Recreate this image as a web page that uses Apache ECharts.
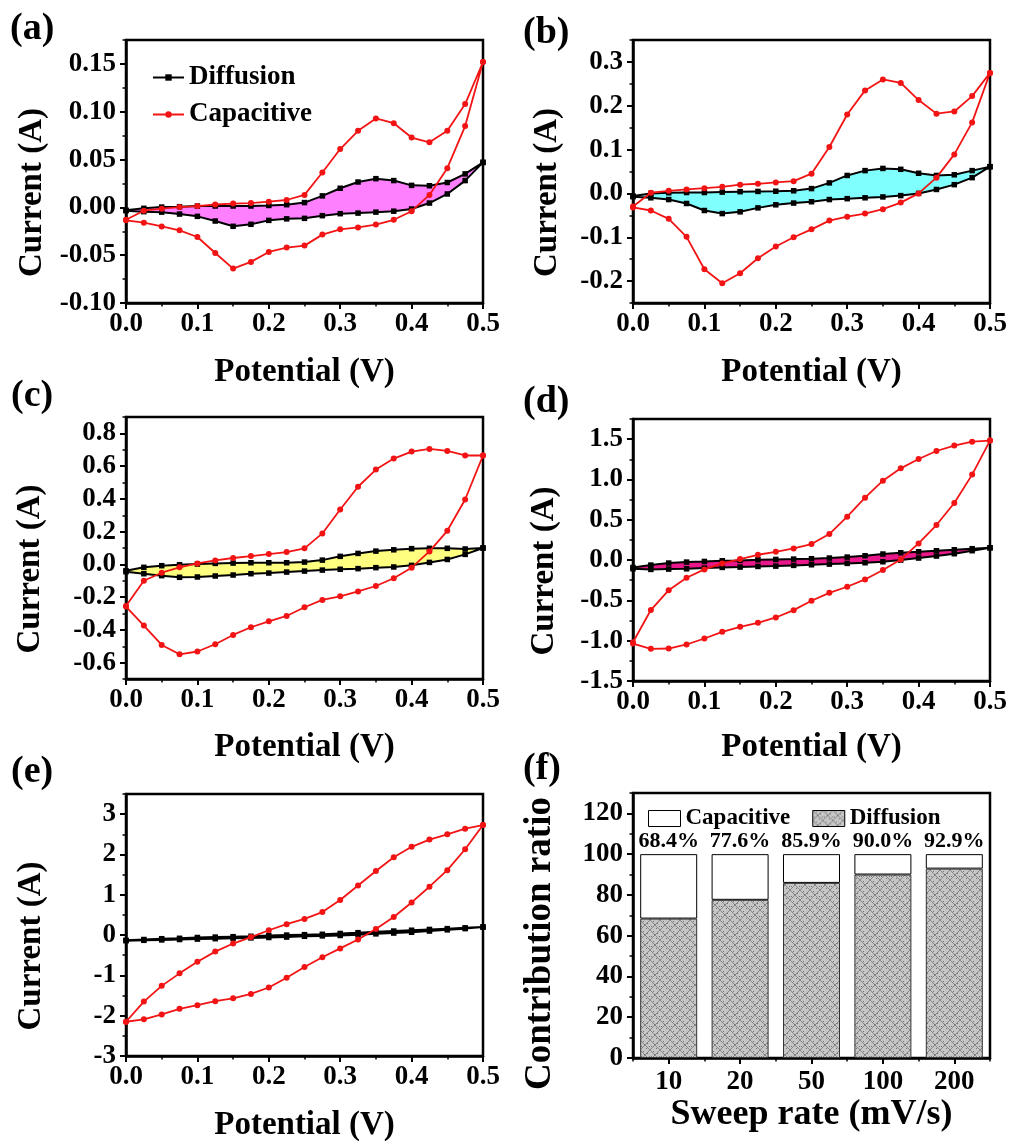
<!DOCTYPE html>
<html>
<head>
<meta charset="utf-8">
<script src="https://cdn.jsdelivr.net/npm/echarts@6/dist/echarts.min.js"></script>
<style>
html, body { margin: 0; padding: 0; background: #fff; }
#chart { width: 1009px; height: 1141px; }
</style>
</head>
<body>
<div id="chart"></div>
<script>
// Potential steps of each sweep (V)
const potential = [0, 0.025, 0.05, 0.075, 0.1, 0.125, 0.15, 0.175, 0.2, 0.225, 0.25,
  0.275, 0.3, 0.325, 0.35, 0.375, 0.4, 0.425, 0.45, 0.475, 0.5];

// (a) currents (A): anodic sweep (Up) and cathodic sweep (Down), listed by rising potential
const aCapUp   = [-0.013, -0.0035, -0.0014, 0.0003, 0.0014, 0.003, 0.004, 0.0045, 0.006, 0.0077, 0.013, 0.0365, 0.061, 0.080, 0.093, 0.088, 0.073, 0.068, 0.080, 0.108, 0.152];
const aCapDown = [-0.0135, -0.016, -0.020, -0.024, -0.031, -0.0477, -0.064, -0.057, -0.0466, -0.042, -0.040, -0.0285, -0.023, -0.021, -0.018, -0.013, -0.004, 0.013, 0.041, 0.085, 0.152];
const aDiffUp   = [-0.003, -0.001, 0.0003, 0.0007, 0.0014, 0.0014, 0.0014, 0.0014, 0.002, 0.0028, 0.005, 0.012, 0.020, 0.0265, 0.030, 0.028, 0.023, 0.0226, 0.026, 0.035, 0.047];
const aDiffDown = [-0.0035, -0.0045, -0.005, -0.007, -0.0094, -0.0143, -0.0198, -0.0177, -0.0136, -0.012, -0.0115, -0.0087, -0.0066, -0.006, -0.005, -0.004, -0.0017, 0.0045, 0.014, 0.028, 0.047];

// (b)
const bCapUp   = [-0.030, 0.0015, 0.006, 0.009, 0.012, 0.015, 0.020, 0.022, 0.025, 0.028, 0.045, 0.106, 0.180, 0.235, 0.260, 0.252, 0.213, 0.182, 0.187, 0.222, 0.275];
const bCapDown = [-0.032, -0.039, -0.058, -0.099, -0.173, -0.205, -0.182, -0.148, -0.121, -0.100, -0.082, -0.062, -0.053, -0.046, -0.036, -0.021, 0.0, 0.036, 0.089, 0.162, 0.275];
const bDiffUp   = [-0.006, 0.0, 0.0015, 0.002, 0.002, 0.003, 0.004, 0.0045, 0.005, 0.006, 0.011, 0.024, 0.041, 0.052, 0.057, 0.055, 0.046, 0.041, 0.0425, 0.052, 0.061];
const bDiffDown = [-0.0075, -0.010, -0.014, -0.023, -0.039, -0.046, -0.042, -0.033, -0.026, -0.022, -0.019, -0.014, -0.012, -0.010, -0.008, -0.005, 0.0, 0.009, 0.020, 0.036, 0.061];

// (c)
const cCapUp   = [-0.254, -0.10, -0.051, -0.018, 0.006, 0.024, 0.039, 0.051, 0.063, 0.075, 0.098, 0.189, 0.335, 0.474, 0.579, 0.646, 0.689, 0.705, 0.693, 0.665, 0.665];
const cCapDown = [-0.258, -0.374, -0.492, -0.549, -0.532, -0.488, -0.431, -0.384, -0.348, -0.315, -0.262, -0.217, -0.195, -0.165, -0.132, -0.085, -0.020, 0.079, 0.205, 0.396, 0.665];
const cDiffUp   = [-0.039, -0.018, -0.008, -0.002, 0.002, 0.006, 0.008, 0.010, 0.010, 0.010, 0.014, 0.026, 0.049, 0.067, 0.081, 0.089, 0.096, 0.098, 0.098, 0.094, 0.100];
const cDiffDown = [-0.045, -0.057, -0.069, -0.079, -0.077, -0.071, -0.065, -0.057, -0.053, -0.047, -0.041, -0.035, -0.030, -0.026, -0.020, -0.016, -0.006, 0.012, 0.030, 0.061, 0.100];

// (d)
const dCapUp   = [-1.02, -0.62, -0.373, -0.219, -0.116, -0.041, 0.012, 0.066, 0.103, 0.145, 0.199, 0.323, 0.538, 0.774, 0.985, 1.138, 1.254, 1.353, 1.42, 1.469, 1.482];
const dCapDown = [-1.035, -1.101, -1.097, -1.047, -0.973, -0.890, -0.828, -0.778, -0.712, -0.621, -0.505, -0.406, -0.331, -0.240, -0.124, 0.008, 0.207, 0.435, 0.708, 1.06, 1.482];
const dDiffUp   = [-0.091, -0.062, -0.037, -0.025, -0.017, -0.008, -0.004, 0.004, 0.008, 0.012, 0.017, 0.025, 0.037, 0.054, 0.075, 0.091, 0.103, 0.116, 0.128, 0.141, 0.153];
const dDiffDown = [-0.108, -0.116, -0.112, -0.108, -0.099, -0.091, -0.087, -0.079, -0.075, -0.066, -0.058, -0.050, -0.041, -0.033, -0.021, 0.0, 0.025, 0.050, 0.079, 0.116, 0.153];

// (e)
const eCapUp   = [-2.15, -1.65, -1.26, -0.95, -0.66, -0.41, -0.21, -0.05, 0.12, 0.27, 0.40, 0.57, 0.87, 1.23, 1.59, 1.93, 2.19, 2.37, 2.50, 2.64, 2.73];
const eCapDown = [-2.15, -2.09, -1.97, -1.83, -1.74, -1.64, -1.57, -1.46, -1.30, -1.06, -0.79, -0.55, -0.33, -0.11, 0.15, 0.45, 0.81, 1.20, 1.61, 2.13, 2.73];
const eDiffUp   = [-0.13, -0.11, -0.09, -0.08, -0.06, -0.05, -0.04, -0.03, -0.01, 0.0, 0.01, 0.02, 0.04, 0.06, 0.08, 0.10, 0.12, 0.14, 0.16, 0.18, 0.20];
const eDiffDown = [-0.14, -0.13, -0.12, -0.11, -0.10, -0.09, -0.08, -0.07, -0.06, -0.05, -0.03, -0.02, -0.01, 0.01, 0.03, 0.05, 0.07, 0.10, 0.13, 0.16, 0.20];

// (f) contribution ratio (%) per sweep rate
const sweepRates = ['10', '20', '50', '100', '200'];
const diffusionPct = [68.4, 77.6, 85.9, 90.0, 92.9];
const capacitivePct = [31.6, 22.4, 14.1, 10.0, 7.1];

// Tick labels
const xTicks = [0, 0.1, 0.2, 0.3, 0.4, 0.5];
const aTicks = [-0.1, -0.05, 0, 0.05, 0.1, 0.15];
const bTicks = [-0.2, -0.1, 0, 0.1, 0.2, 0.3];
const cTicks = [-0.6, -0.4, -0.2, 0, 0.2, 0.4, 0.6, 0.8];
const dTicks = [-1.5, -1, -0.5, 0, 0.5, 1, 1.5];
const eTicks = [-3, -2, -1, 0, 1, 2, 3];
const fTicks = [0, 20, 40, 60, 80, 100, 120];

const FONT = "'Liberation Serif', 'Times New Roman', serif";
const BLACK = '#000';
const RED = '#f21414';

// closed CV loop: anodic branch going up in potential, cathodic branch coming back
function loop(up, down) {
  const pts = potential.map((x, i) => [x, up[i]]);
  for (let i = potential.length - 1; i >= 0; i--) pts.push([potential[i], down[i]]);
  return pts;
}

// grey cross-hatched fill used for the diffusion bars
function hatch() {
  const c = document.createElement('canvas');
  c.width = 10; c.height = 10;
  const g = c.getContext('2d');
  g.fillStyle = '#c6c6c6';
  g.fillRect(0, 0, 10, 10);
  g.strokeStyle = '#7a7a7a';
  g.lineWidth = 0.8;
  g.beginPath();
  g.moveTo(0, 0); g.lineTo(10, 10);
  g.moveTo(10, 0); g.lineTo(0, 10);
  g.stroke();
  g.fillStyle = '#747474';
  [[3, 1], [7, 3], [1, 6], [6, 8], [9, 6], [4, 4]].forEach(p => g.fillRect(p[0], p[1], 1, 1));
  return c;
}
const hatchFill = { image: hatch(), repeat: 'repeat' };

const panels = [
  { grid: { left: 126, top: 40, width: 357, height: 263 }, yMin: -0.1, yMax: 0.175, yStep: 0.025, ticks: aTicks, dec: 2, xGap: 53, yGap: 77, fill: '#ff80ff',
    cap: [aCapUp, aCapDown], diff: [aDiffUp, aDiffDown] },
  { grid: { left: 633, top: 40, width: 357, height: 263 }, yMin: -0.25, yMax: 0.35, yStep: 0.05, ticks: bTicks, dec: 1, xGap: 53, yGap: 69, fill: '#80ffff',
    cap: [bCapUp, bCapDown], diff: [bDiffUp, bDiffDown] },
  { grid: { left: 126, top: 417, width: 357, height: 262 }, yMin: -0.7, yMax: 0.9, yStep: 0.1, ticks: cTicks, dec: 1, xGap: 52, yGap: 79, fill: '#ffff80',
    cap: [cCapUp, cCapDown], diff: [cDiffUp, cDiffDown] },
  { grid: { left: 633, top: 419, width: 357, height: 262 }, yMin: -1.5, yMax: 1.75, yStep: 0.25, ticks: dTicks, dec: 1, xGap: 50, yGap: 72, fill: '#e8178a',
    cap: [dCapUp, dCapDown], diff: [dDiffUp, dDiffDown] },
  { grid: { left: 126, top: 794, width: 357, height: 262 }, yMin: -3, yMax: 3.5, yStep: 0.5, ticks: eTicks, dec: 0, xGap: 53, yGap: 78, fill: '#22b422',
    cap: [eCapUp, eCapDown], diff: [eDiffUp, eDiffDown] }
];
const barGrid = { left: 633, top: 793, width: 357, height: 265 };

const tickFont = { fontFamily: FONT, fontWeight: 'bold', fontSize: 27, color: BLACK };
const nameFont = { fontFamily: FONT, fontWeight: 'bold', fontSize: 33, color: BLACK };

const grids = [], xAxes = [], yAxes = [], series = [];

function frameGrid(g) {
  return Object.assign({ show: true, borderColor: BLACK, borderWidth: 2.5, backgroundColor: 'transparent',
    containLabel: false, outerBoundsMode: 'none' }, g);
}
function minorAxis(gi, type, min, max, step, position) {
  return { type: type, gridIndex: gi, min: min, max: max, interval: step, position: position,
    axisLine: { show: false, onZero: false },
    axisTick: { show: true, length: 3.5, lineStyle: { color: BLACK, width: 1.5 } },
    axisLabel: { show: false }, splitLine: { show: false } };
}

panels.forEach((p, i) => {
  grids.push(frameGrid(p.grid));
  xAxes.push({
    type: 'value', gridIndex: i, min: 0, max: 0.5, interval: 0.05, position: 'bottom',
    axisLine: { show: true, onZero: false, lineStyle: { color: BLACK, width: 2.5 } },
    axisTick: { show: true, length: 6, customValues: xTicks, lineStyle: { color: BLACK, width: 2 } },
    axisLabel: Object.assign({ customValues: xTicks, margin: 8, formatter: v => v.toFixed(1) }, tickFont),
    splitLine: { show: false },
    name: 'Potential (V)', nameLocation: 'middle', nameGap: p.xGap, nameTextStyle: nameFont
  });
  xAxes.push(minorAxis(i, 'value', 0, 0.5, 0.05, 'bottom'));
  yAxes.push({
    type: 'value', gridIndex: i, min: p.yMin, max: p.yMax, interval: p.yStep, position: 'left',
    axisLine: { show: true, onZero: false, lineStyle: { color: BLACK, width: 2.5 } },
    axisTick: { show: true, length: 6, customValues: p.ticks, lineStyle: { color: BLACK, width: 2 } },
    axisLabel: Object.assign({ customValues: p.ticks, margin: 10, formatter: v => v.toFixed(p.dec) }, tickFont),
    splitLine: { show: false },
    name: 'Current (A)', nameLocation: 'middle', nameGap: p.yGap,
    nameTextStyle: Object.assign({ padding: [0, 42, 0, 0] }, nameFont)
  });
  yAxes.push(minorAxis(i, 'value', p.yMin, p.yMax, p.yStep, 'left'));

  const diffLoop = loop(p.diff[0], p.diff[1]);
  const capLoop = loop(p.cap[0], p.cap[1]);
  const ax = 2 * i;
  // shaded diffusion loop
  series.push({
    type: 'custom', xAxisIndex: ax, yAxisIndex: ax, data: [[0, 0]], silent: true, z: 1,
    renderItem: (params, api) => ({
      type: 'polygon',
      shape: { points: diffLoop.map(pt => api.coord(pt)) },
      style: { fill: p.fill, stroke: null }
    })
  });
  series.push({
    type: 'line', name: 'Diffusion', xAxisIndex: ax, yAxisIndex: ax, data: diffLoop, z: 3,
    symbol: 'rect', symbolSize: 5.5, lineStyle: { color: BLACK, width: 2 }, itemStyle: { color: BLACK }
  });
  series.push({
    type: 'line', name: 'Capacitive', xAxisIndex: ax, yAxisIndex: ax, data: capLoop, z: 4,
    symbol: 'circle', symbolSize: 6, lineStyle: { color: RED, width: 1.8 }, itemStyle: { color: RED }
  });
});

// (f) stacked contribution bars
grids.push(frameGrid(barGrid));
xAxes.push({
  type: 'category', gridIndex: 5, data: sweepRates, position: 'bottom',
  axisLine: { show: true, onZero: false, lineStyle: { color: BLACK, width: 2.5 } },
  axisTick: { show: true, alignWithLabel: true, length: 6, lineStyle: { color: BLACK, width: 2 } },
  axisLabel: Object.assign({ margin: 11 }, tickFont),
  splitLine: { show: false },
  name: 'Sweep rate (mV/s)', nameLocation: 'middle', nameGap: 39,
  nameTextStyle: Object.assign({}, nameFont, { fontSize: 36 })
});
xAxes.push({
  type: 'category', gridIndex: 5, data: sweepRates, position: 'bottom',
  axisLine: { show: false, onZero: false },
  axisTick: { show: true, length: 3.5, lineStyle: { color: BLACK, width: 1.5 } },
  axisLabel: { show: false }, splitLine: { show: false }
});
yAxes.push({
  type: 'value', gridIndex: 5, min: 0, max: 130, interval: 10, position: 'left',
  axisLine: { show: true, onZero: false, lineStyle: { color: BLACK, width: 2.5 } },
  axisTick: { show: true, length: 6, customValues: fTicks, lineStyle: { color: BLACK, width: 2 } },
  axisLabel: Object.assign({ customValues: fTicks, margin: 10 }, tickFont),
  splitLine: { show: false },
  name: 'Contribution ratio', nameLocation: 'middle', nameGap: 74,
  nameTextStyle: Object.assign({ padding: [0, 36, 0, 0] }, nameFont, { fontSize: 37 })
});
yAxes.push(minorAxis(5, 'value', 0, 130, 10, 'left'));

series.push({
  type: 'bar', name: 'Diffusion', xAxisIndex: 10, yAxisIndex: 10, stack: 'ratio', data: diffusionPct,
  barWidth: 57, z: 2, itemStyle: { color: hatchFill, borderColor: '#333', borderWidth: 1 }
});
series.push({
  type: 'bar', name: 'Capacitive', xAxisIndex: 10, yAxisIndex: 10, stack: 'ratio', data: capacitivePct,
  barWidth: 57, z: 2, itemStyle: { color: '#fff', borderColor: BLACK, borderWidth: 1 },
  label: {
    show: true, position: 'top', distance: 2,
    formatter: prm => diffusionPct[prm.dataIndex].toFixed(1) + '%',
    fontFamily: FONT, fontWeight: 'bold', fontSize: 22, color: BLACK
  }
});

const panelTitle = (text, left, top) => ({
  text: text, left: left, top: top, padding: 0,
  textStyle: { fontFamily: FONT, fontWeight: 'bold', fontSize: 38, color: BLACK }
});

const option = {
  animation: false,
  backgroundColor: '#fff',
  title: [
    panelTitle('(a)', 10, 10),
    panelTitle('(b)', 523, 14),
    panelTitle('(c)', 11, 377),
    panelTitle('(d)', 523, 383),
    panelTitle('(e)', 11, 753),
    panelTitle('(f)', 523, 750)
  ],
  legend: [
    {
      left: 147, top: 59, orient: 'vertical', itemGap: 10, itemWidth: 31, itemHeight: 8,
      selectedMode: false, data: ['Diffusion', 'Capacitive'],
      textStyle: { fontFamily: FONT, fontWeight: 'bold', fontSize: 27, color: BLACK }
    },
    {
      left: 643, top: 802, orient: 'horizontal', itemGap: 22, itemWidth: 32, itemHeight: 16,
      selectedMode: false,
      data: [
        { name: 'Capacitive', icon: 'rect', itemStyle: { color: '#fff', borderColor: BLACK, borderWidth: 1 } },
        { name: 'Diffusion', icon: 'rect', itemStyle: { color: hatchFill, borderColor: BLACK, borderWidth: 1 } }
      ],
      textStyle: { fontFamily: FONT, fontWeight: 'bold', fontSize: 23, color: BLACK }
    }
  ],
  grid: grids,
  xAxis: xAxes,
  yAxis: yAxes,
  series: series
};

const chart = echarts.init(document.getElementById('chart'), null, { renderer: 'canvas' });
chart.setOption(option);
</script>
</body>
</html>
